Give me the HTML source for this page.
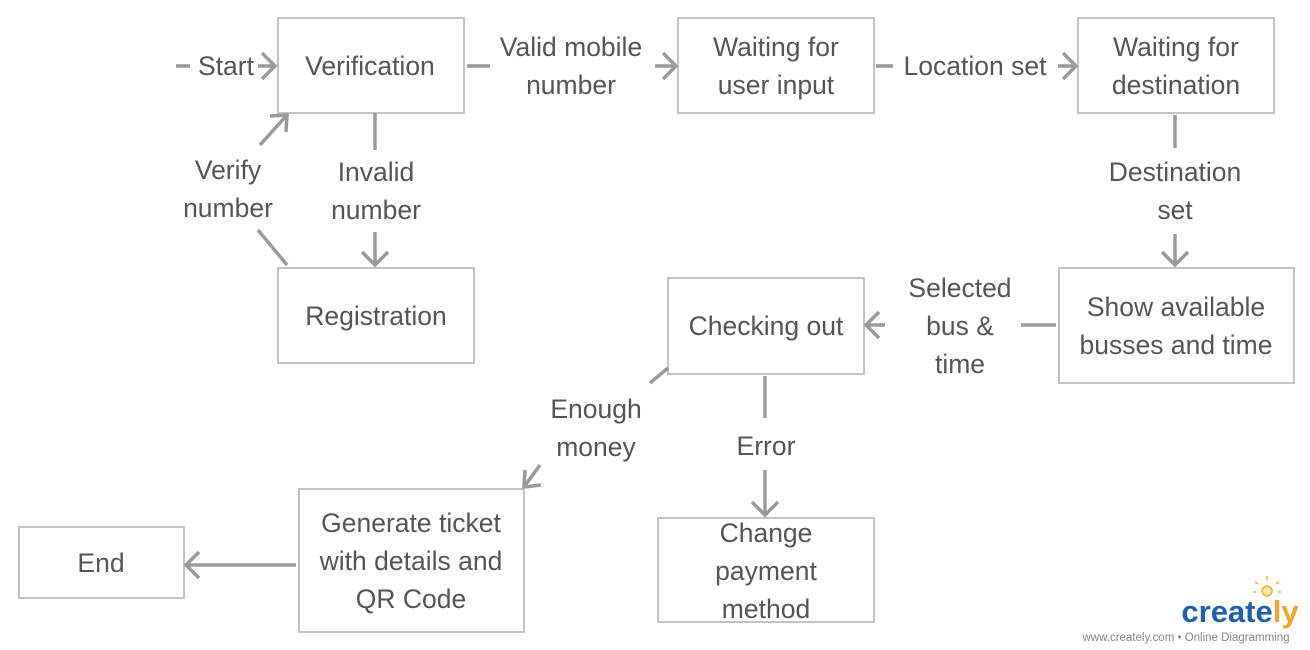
<!DOCTYPE html>
<html><head><meta charset="utf-8"><style>
html,body{margin:0;padding:0;background:#fff;}
svg{display:block;}
text{font-family:"Liberation Sans",sans-serif;font-size:26.5px;fill:#555;text-anchor:middle;}
.b{fill:#fff;stroke:#c4c4c4;stroke-width:2;}
.l{stroke:#9a9a9a;stroke-width:3.5;fill:none;}
</style></head><body>
<svg width="1310" height="650" viewBox="0 0 1310 650">
<rect class="b" x="278" y="18" width="186" height="95"/>
<rect class="b" x="678" y="18" width="196" height="95"/>
<rect class="b" x="1078" y="18" width="196" height="95"/>
<rect class="b" x="278" y="268" width="196" height="95"/>
<rect class="b" x="1059" y="268" width="235" height="115"/>
<rect class="b" x="668" y="278" width="196" height="96"/>
<rect class="b" x="299" y="489" width="225" height="143"/>
<rect class="b" x="658" y="518" width="216" height="104"/>
<rect class="b" x="19" y="527" width="165" height="71"/>

<text x="370" y="75">Verification</text>
<text x="776" y="56">Waiting for</text><text x="776" y="94">user input</text>
<text x="1176" y="56">Waiting for</text><text x="1176" y="94">destination</text>
<text x="376" y="325">Registration</text>
<text x="1176" y="316">Show available</text><text x="1176" y="354">busses and time</text>
<text x="766" y="335">Checking out</text>
<text x="411" y="532">Generate ticket</text><text x="411" y="570">with details and</text><text x="411" y="608">QR Code</text>
<text x="766" y="542">Change</text><text x="766" y="580">payment</text><text x="766" y="618">method</text>
<text x="101" y="572">End</text>

<text x="226" y="75">Start</text>
<text x="571" y="56">Valid mobile</text><text x="571" y="94">number</text>
<text x="975" y="75">Location set</text>
<text x="1175" y="181">Destination</text><text x="1175" y="219">set</text>
<text x="960" y="297">Selected</text><text x="960" y="335">bus &amp;</text><text x="960" y="373">time</text>
<text x="596" y="418">Enough</text><text x="596" y="456">money</text>
<text x="766" y="455">Error</text>
<text x="228" y="179">Verify</text><text x="228" y="217">number</text>
<text x="376" y="181">Invalid</text><text x="376" y="219">number</text>

<path class="l" d="M176 66H190 M258 66H275 M262 53L275 66L262 79"/>
<path class="l" d="M467 66H490 M655 66H676 M663 53L676 66L663 79"/>
<path class="l" d="M876 66H893 M1058 66H1076 M1063 53L1076 66L1063 79"/>
<path class="l" d="M1175 115V148 M1175 234V265 M1162 252L1175 265L1188 252"/>
<path class="l" d="M1056 325H1021 M885 325H866 M879 312L866 325L879 338"/>
<path class="l" d="M765 376V418 M765 470V515 M752 502L765 515L778 502"/>
<path class="l" d="M668 368L650 383 M540 465L524 487 M525 470L524 487L541 485"/>
<path class="l" d="M296 565H186 M199 552L186 565L199 578"/>
<path class="l" d="M375 113V150 M375 232V265 M362 252L375 265L388 252"/>
<path class="l" d="M287 265L258 230 M260 145L287 115 M270 116L287 115L286 132"/>

<g>
<circle cx="1267" cy="591" r="5" fill="#fbe7a0" stroke="#f2b233" stroke-width="1.5"/>
<path d="M1267 580v-4 M1258 584l-3-2 M1276 584l3-2 M1256 592h-3 M1278 592h3" stroke="#f2b233" stroke-width="1.5"/>
<text x="1240" y="622" style="font-size:31px;fill:#1f5fae;font-weight:bold;">create<tspan style="fill:#f2a431">ly</tspan></text>
<text x="1186" y="641" style="font-size:11.5px;fill:#888;">www.creately.com • Online Diagramming</text>
</g>
</svg>
</body></html>
